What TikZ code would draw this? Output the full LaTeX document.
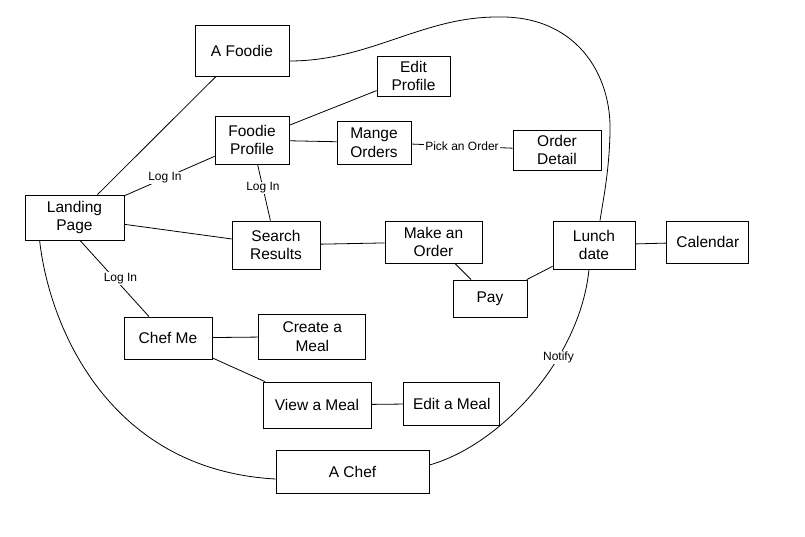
\documentclass[tikz,border=0pt]{standalone}
\usepackage{fontspec}
\setmainfont{Liberation Sans}
\usetikzlibrary{positioning}

\begin{document}
\begin{tikzpicture}[
  x=1pt, y=-1pt,
  line width=0.8pt,
  every node/.style={font=\fontsize{15.5}{18.5}\selectfont},
  box/.style={draw, align=center, inner sep=2pt},
  lbl/.style={fill=white, inner sep=1pt, font=\fontsize{12}{14}\selectfont}
]
\useasboundingbox (0,0) rectangle (805,536);

% Entry point
\node[box, minimum width=99pt, minimum height=45pt] (landing) at (74.5,217.5) {Landing\\Page};

% Foodie side
\node[box, minimum width=94pt, minimum height=51pt] (foodie) at (242,50.5) {A Foodie};
\node[box, minimum width=74pt, minimum height=48pt] (fprofile) at (252,140) {Foodie\\Profile};
\node[box, minimum width=73pt, minimum height=40pt] (edit_prof) at (413.5,76) {Edit\\Profile};
\node[box, minimum width=74pt, minimum height=43pt] (orders) at (374,142.5) {Mange\\Orders};
\node[box, minimum width=88pt, minimum height=40pt] (detail) at (557,150) {Order\\Detail};

% Ordering
\node[box, minimum width=88pt, minimum height=48pt] (search) at (276,245) {Search\\Results};
\node[box, minimum width=97pt, minimum height=42pt] (make_order) at (433.5,242) {Make an\\Order};
\node[box, minimum width=74pt, minimum height=37pt] (pay) at (490,298.5) {Pay};
\node[box, minimum width=82pt, minimum height=48pt] (lunch) at (594,245) {Lunch\\date};
\node[box, minimum width=82pt, minimum height=42pt, right=31pt of lunch, yshift=3pt] (calendar) {Calendar};

% Chef side
\node[box, minimum width=88pt, minimum height=42pt] (chef_me) at (168,338) {Chef Me};
\node[box, minimum width=107pt, minimum height=45pt, right=46pt of chef_me, yshift=1.5pt] (create_meal) {Create a\\Meal};
\node[box, minimum width=108pt, minimum height=46pt] (view_meal) at (317,405) {View a Meal};
\node[box, minimum width=96pt, minimum height=43pt, right=32pt of view_meal, yshift=1.5pt] (edit_meal) {Edit a Meal};
\node[box, minimum width=153pt, minimum height=43pt] (chef) at (352.5,471.5) {A Chef};

% Lines
\draw (landing) -- (foodie);
\draw (landing) -- node[lbl, pos=0.45] (login_a) {Log In} (fprofile);
\draw (fprofile) -- (edit_prof);
\draw (fprofile) -- (orders);
\draw (orders) -- node[lbl] (pick) {Pick an Order} (detail);
\draw (fprofile) -- node[lbl, pos=0.42] (login_b) {Log In} (search);
\draw (landing) -- (search);
\draw (search) -- (make_order);
\draw (make_order) -- (pay);
\draw (pay) -- (lunch);
\draw (lunch) -- (calendar);
\draw ([xshift=5.5pt]landing.south) -- node[lbl, xshift=6pt] (login_c) {Log In} ([xshift=-19pt]chef_me.north);
\draw (chef_me) -- (create_meal);
\draw (chef_me) -- (view_meal);
\draw (view_meal) -- (edit_meal);

% Big curves
\draw ([yshift=-10.5pt]foodie.east) .. controls +(80,0) and +(-75,0) .. (497,17)
  .. controls +(78,-2) and +(2,-60) .. (610,133)
  .. controls +(-1,40) and +(3,-20) .. ([xshift=6pt]lunch.north);
\draw ([xshift=15pt]landing.south west) .. controls +(10,89) and +(-165,-9) .. ([yshift=-7.5pt]chef.west);
\draw ([yshift=6.5pt]chef.east) .. controls +(71,-20) and +(-9,90) .. ([xshift=-5pt]lunch.south)
  node[lbl, pos=0.66] (notify) {Notify};

\end{tikzpicture}
\end{document}
